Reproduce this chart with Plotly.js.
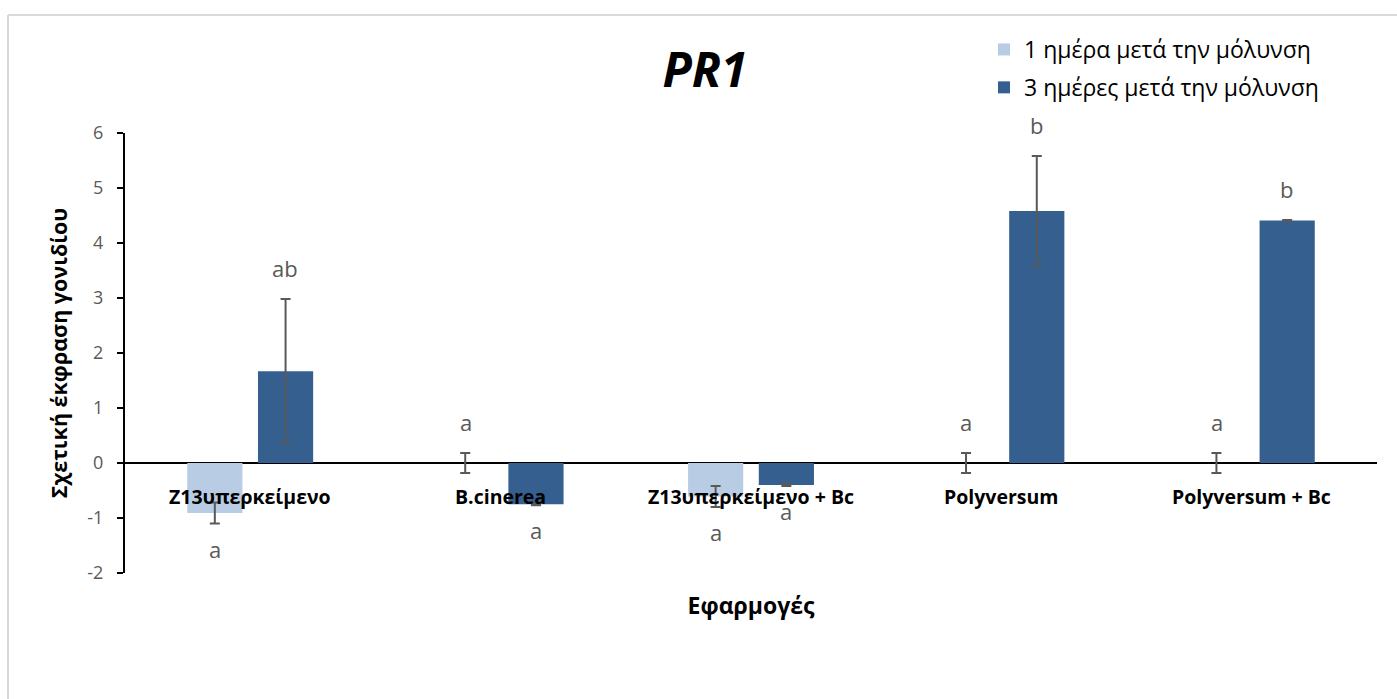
<!DOCTYPE html>
<html>
<head>
<meta charset="utf-8">
<script src="https://cdn.plot.ly/plotly-3.0.1.min.js"></script>
<style>
html,body{margin:0;padding:0;background:#fff;}
#chart{width:1397px;height:699px;}
</style>
</head>
<body>
<div id="chart"></div>
<script>
const categories = ["Z13υπερκείμενο", "B.cinerea", "Z13υπερκείμενο + Bc", "Polyversum", "Polyversum + Bc"];
const seriesNames = ["1 ημέρα μετά την μόλυνση", "3 ημέρες μετά την μόλυνση"];
const day1Values = [-0.91, 0.0, -0.61, 0.0, 0.0];
const day1Errors = [0.19, 0.18, 0.19, 0.18, 0.18];
const day3Values = [1.67, -0.75, -0.40, 4.58, 4.41];
const day3Errors = [1.31, 0.02, 0.02, 1.0, 0.01];
const day1Letters = ["a", "a", "a", "a", "a"];
const day3Letters = ["ab", "a", "a", "b", "b"];
const yTicks = [-2, -1, 0, 1, 2, 3, 4, 5, 6];

const FONT = "'Open Sans', 'Noto Sans', sans-serif";
const errStyle = {type: "data", visible: true, color: "#595959", thickness: 2, width: 5};

const traces = [
  {type: "bar", name: seriesNames[0], x: categories, y: day1Values, legendgroup: "g1",
   marker: {color: "#b8cde4"},
   error_y: Object.assign({array: day1Errors}, errStyle)},
  {type: "bar", name: seriesNames[1], x: categories, y: day3Values, legendgroup: "g2",
   marker: {color: "#355f8f"},
   error_y: Object.assign({array: day3Errors}, errStyle)}
];

const annotations = [];
categories.forEach(function(c){
  annotations.push({x: c, y: 0, xref: "x", yref: "y", text: "<b>" + c + "</b>",
    showarrow: false, yanchor: "top", yshift: -18,
    font: {family: FONT, size: 19.5, color: "#000"}});
});
function addLetters(vals, errs, letters, xs){
  vals.forEach(function(v, i){
    const up = v >= 0;
    annotations.push({x: categories[i], y: up ? v + errs[i] : v - errs[i], xref: "x", yref: "y",
      text: letters[i], showarrow: false, xshift: xs,
      yanchor: up ? "bottom" : "top", yshift: up ? 14 : -8,
      font: {family: FONT, size: 22, color: "#595959"}});
  });
}
addLetters(day1Values, day1Errors, day1Letters, -35);
addLetters(day3Values, day3Errors, day3Letters, 35);

const L = 125, R = 20, T = 133, B = 126;
const pw = 1397 - L - R, ph = 699 - T - B;
function px2x(p){ return (p - L) / pw; }
function py2y(p){ return 1 - (p - T) / ph; }

const layout = {
  width: 1397, height: 699,
  margin: {l: L, r: R, t: T, b: B, pad: 0},
  paper_bgcolor: "#fff", plot_bgcolor: "#fff",
  font: {family: FONT},
  title: {text: "<b><i>PR1</i></b>", x: 705 / 1397, xanchor: "center",
          y: 1 - 70 / 699, yanchor: "middle", font: {family: FONT, size: 48, color: "#000"}},
  barmode: "group", bargap: 0.435, bargroupgap: 0.22,
  showlegend: true,
  legend: {x: px2x(984), y: py2y(28), xanchor: "left", yanchor: "top",
           font: {family: FONT, size: 23, color: "#000"}, traceorder: "grouped",
           bgcolor: "rgba(0,0,0,0)", itemwidth: 30, tracegroupgap: 5},
  xaxis: {type: "category", showticklabels: false, ticks: "", showline: false, showgrid: false,
          zeroline: false, fixedrange: true,
          title: {text: "<b>Εφαρμογές</b>", standoff: 24, font: {family: FONT, size: 23, color: "#000"}}},
  yaxis: {range: [-2, 6], tickvals: yTicks, ticktext: yTicks.map(String), ticks: "outside", ticklen: 6,
          tickwidth: 1.5, tickcolor: "#000", showline: true, linecolor: "#000", linewidth: 2,
          showgrid: false, zeroline: true, zerolinecolor: "#000", zerolinewidth: 1.5,
          ticklabelstandoff: 10,
          tickfont: {family: FONT, size: 18, color: "#595959"},
          title: {text: "<b>Σχετική έκφραση γονιδίου</b>", standoff: 14, font: {family: FONT, size: 21.5, color: "#000"}}},
  annotations: annotations,
  shapes: [
    {type: "line", xref: "paper", yref: "paper", x0: px2x(8), x1: px2x(1397), y0: py2y(15), y1: py2y(15),
     line: {color: "#d9d9d9", width: 2}},
    {type: "line", xref: "paper", yref: "paper", x0: px2x(8), x1: px2x(8), y0: py2y(15), y1: py2y(699),
     line: {color: "#d9d9d9", width: 2}}
  ]
};

Plotly.newPlot("chart", traces, layout, {displayModeBar: false, staticPlot: true});
</script>
</body>
</html>
